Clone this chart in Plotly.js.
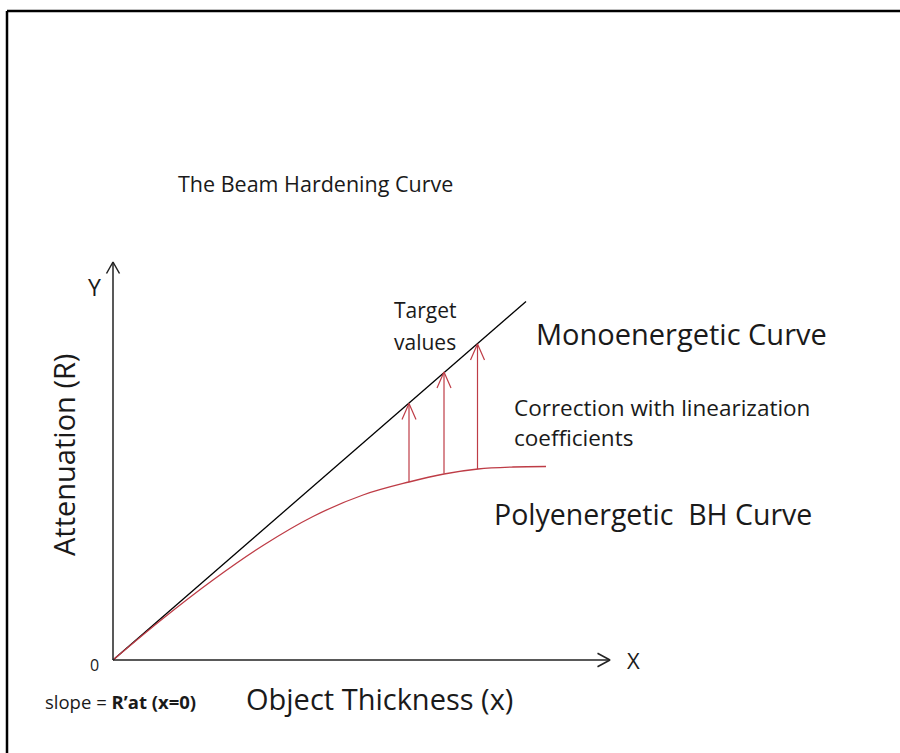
<!DOCTYPE html>
<html>
<head>
<meta charset="utf-8">
<script src="https://cdn.plot.ly/plotly-3.0.1.min.js"></script>
<style>html,body{margin:0;padding:0;background:#fff;}#chart{width:900px;height:753px;}</style>
</head>
<body>
<div id="chart"></div>
<script>
// ---- data (object thickness x, attenuation R) ----
const monoX = [0, 8.26];
const monoY = [0, 7.17];

const polyX = [0, 1, 2, 3, 4, 5, 5.92, 6.62, 7.30, 8.0, 8.66];
const polyY = [0, 0.83, 1.60, 2.29, 2.87, 3.30, 3.56, 3.72, 3.82, 3.86, 3.87];

// correction arrows: from poly curve up to the target on the monoenergetic line
const arrowX    = [5.92, 6.62, 7.29];
const arrowBase = [3.56, 3.73, 3.82];
const arrowTip  = [5.13, 5.76, 6.32];

const xRange = [-0.5, 10.5];
const yRange = [-0.5, 8.3];
const axisEndX = 9.94;
const axisEndY = 7.96;

const red = 'rgb(190,60,70)';
const font = 'Open Sans, Noto Sans, sans-serif';

// arrow traces (shaft + open chevron head)
const hx = 0.14, hy = 0.32;
const ax = [], ay = [];
for (let i = 0; i < arrowX.length; i++) {
  ax.push(arrowX[i], arrowX[i], null, arrowX[i] - hx, arrowX[i], arrowX[i] + hx, null);
  ay.push(arrowBase[i], arrowTip[i], null, arrowTip[i] - hy, arrowTip[i], arrowTip[i] - hy, null);
}

const traces = [
  {x: monoX, y: monoY, mode: 'lines', line: {color: '#000', width: 1.3}, hoverinfo: 'skip'},
  {x: polyX, y: polyY, mode: 'lines', line: {color: red, width: 1.3, shape: 'spline'}, hoverinfo: 'skip'},
  {x: ax, y: ay, mode: 'lines', line: {color: red, width: 1.2}, hoverinfo: 'skip'}
];

// axes drawn as lines with open chevrons
const cx = 0.13, cy = 0.23;
traces.push({
  x: [0, 0, null, -cx, 0, cx, null, 0, axisEndX, null, axisEndX - 0.25, axisEndX, axisEndX - 0.25],
  y: [0, axisEndY, null, axisEndY - cy, axisEndY, axisEndY - cy, null, 0, 0, null, 0.135, 0, -0.135],
  mode: 'lines', line: {color: '#222', width: 1.5}, hoverinfo: 'skip'
});

function px(x) { return (x - xRange[0]) / (xRange[1] - xRange[0]); }
function py(y) { return (y - yRange[0]) / (yRange[1] - yRange[0]); }

function txt(text, x, y, size, opts) {
  return Object.assign({text: text, x: px(x), y: py(y), xref: 'paper', yref: 'paper', showarrow: false,
    xanchor: 'left', yanchor: 'middle', font: {family: font, size: size, color: '#1a1a1a'}}, opts || {});
}

const annotations = [
  txt('The Beam Hardening Curve', 1.26, 9.54, 21.5),
  txt('Y', -0.38, 7.46, 23, {xanchor: 'center'}),
  txt('Target', 5.58, 7.0, 21),
  txt('values', 5.58, 6.36, 21),
  txt('Monoenergetic Curve', 8.42, 6.54, 29),
  txt('Correction with linearization', 7.98, 5.06, 22.5),
  txt('coefficients', 7.98, 4.46, 22.5),
  txt('Polyenergetic  BH Curve', 7.58, 2.92, 28.5),
  txt('0', -0.38, -0.1, 16, {xanchor: 'center'}),
  txt('X', 10.4, 0, 22, {xanchor: 'center'}),
  txt('Attenuation (R)', -1.0, 4.1, 29, {xanchor: 'center', textangle: -90}),
  txt('slope = <b>R’at (x=0)</b>', -1.4, -0.83, 18.5),
  txt('Object Thickness (x)', 2.62, -0.76, 29)
];

const W = 900, H = 753;
const ml = 113 + xRange[0] * 50, mr = W - (113 + xRange[1] * 50);
const mb = H - (660 - yRange[0] * 50), mt = 660 - yRange[1] * 50;

function fx(p) { return (p - ml) / (W - ml - mr); }
function fy(p) { return (H - mb - p) / (H - mt - mb); }

const layout = {
  width: W, height: H,
  margin: {l: ml, r: mr, t: mt, b: mb},
  paper_bgcolor: '#fff', plot_bgcolor: '#fff',
  showlegend: false,
  xaxis: {range: xRange, visible: false, fixedrange: true},
  yaxis: {range: yRange, visible: false, fixedrange: true},
  annotations: annotations,
  shapes: [
    {type: 'line', xref: 'paper', yref: 'paper', x0: fx(7), x1: fx(905), y0: fy(11), y1: fy(11), line: {color: '#000', width: 2.5}},
    {type: 'line', xref: 'paper', yref: 'paper', x0: fx(7), x1: fx(7), y0: fy(11), y1: fy(760), line: {color: '#000', width: 2.5}}
  ]
};

Plotly.newPlot('chart', traces, layout, {staticPlot: true, displayModeBar: false});
</script>
</body>
</html>
